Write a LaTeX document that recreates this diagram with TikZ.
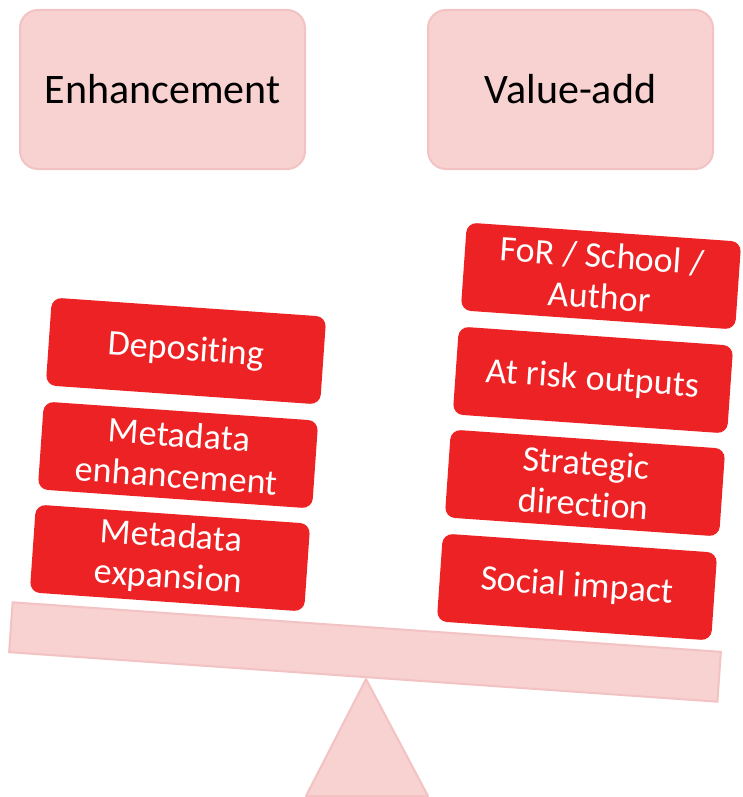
\documentclass[tikz,border=0pt]{standalone}
\usepackage{fontspec}
\setmainfont{Carlito}[Ligatures=NoCommon]
\definecolor{pinkfill}{HTML}{F8D1D1}
\definecolor{pinkline}{HTML}{F3C2C2}
\definecolor{itemred}{HTML}{ED2224}
\begin{document}
\begin{tikzpicture}[x=1pt, y=-1pt,
    side/.style={draw=pinkline, line width=2pt, fill=pinkfill, rounded corners=18pt,
        minimum width=285pt, minimum height=159pt, font=\fontsize{42}{50}\selectfont},
    item/.style={fill=itemred, text=white, rounded corners=10pt, rotate=-4,
        minimum width=275pt, minimum height=88pt, align=center,
        font=\fontsize{36}{41}\selectfont}]
        \useasboundingbox (0, 0) rectangle (742, 797);
        % headings
        \node[side] (enh) at (162.5, 89.5) {Enhancement};
        \node[side] (val) at (570.5, 89.5) {Value-add};
        % fulcrum and beam
        \draw[draw=pinkline, line width=2pt, fill=pinkfill, line join=round] (306, 796) -- (366, 679) -- (428, 796) -- cycle;
        \node[draw=pinkline, line width=2pt, fill=pinkfill, rotate=-4, minimum width=710pt, minimum height=50pt] (beam) at (365, 652) {};
        % left pan
        \node[item] (dep) at (186, 351) {Depositing};
        \node[item] (menh) at (178, 455) {Metadata\\enhancement};
        \node[item] (mexp) at (170, 558) {Metadata\\expansion};
        % right pan
        \node[item] (for) at (601, 276) {FoR / School /\\Author};
        \node[item] (risk) at (593, 380) {At risk outputs};
        \node[item] (strat) at (585, 483) {Strategic\\direction};
        \node[item] (soc) at (577, 587) {Social impact};
    \end{tikzpicture}
\end{document}
